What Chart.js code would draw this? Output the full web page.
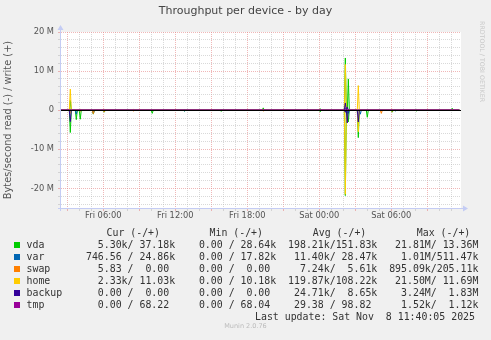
<!DOCTYPE html>
<html>
<head>
<meta charset="utf-8">
<script src="https://cdn.jsdelivr.net/npm/chart.js@4.4.1/dist/chart.umd.min.js"></script>
<style>
  body { margin: 0; background: #f0f0f0; }
  #wrap { position: relative; width: 491px; height: 340px; overflow: hidden; font-family: "DejaVu Sans", sans-serif; }
  #myChart { position: absolute; left: 0; top: 0; }
  .titulo { position: absolute; left: 0; top: 4px; width: 491px; text-align: center; font-size: 11px; color: #444; }
  .rrd { position: absolute; left: 479px; top: 21px; writing-mode: vertical-rl; font-size: 6.3px; color: #c8c8c8; }
  .mono { position: absolute; font-family: "DejaVu Sans Mono", monospace; font-size: 9.9px; line-height: 12px; color: #333; white-space: pre; }
  .cuadro { position: absolute; left: 14px; width: 6px; height: 6px; }
  .munin { position: absolute; left: 0; top: 322px; width: 491px; text-align: center; font-size: 6.5px; color: #bbb; }
</style>
</head>
<body>
<div id="wrap">
  <canvas id="myChart" width="491" height="340"></canvas>
  <div class="titulo">Throughput per device - by day</div>
  <div class="rrd">RRDTOOL / TOBI OETIKER</div>
  <div id="leyenda"></div>
  <div class="munin">Munin 2.0.76</div>
</div>
<script>
// dispositivos y colores (orden de munin)
const dispositivos = ['vda', 'var', 'swap', 'home', 'backup', 'tmp'];
const colores = ['#00cc00', '#0066b3', '#ff8000', '#ffcc00', '#330099', '#990099'];

// picos: hora de la muestra (horas desde vie 00:00) y valor en M bytes/s
const vdaHoras      = [3.25, 3.75, 4.08, 5.17, 6.08, 8.08, 10.08, 12.75, 15.83, 19.33, 24.08, 26.17, 26.42, 27.25, 28.0, 30.08, 30.33, 32.08, 35.08];
const vdaLectura    = [-5.7, -2.4, -2.3, -1.0, -0.5, 0, -0.8, -0.2, -0.3, 0, -0.4, -21.81, -3.0, -7.0, -1.8, -0.5, 0, -0.2, 0];
const vdaEscritura  = [2.5, 0, 0.3, 0, 0, 0.3, 0, 0, 0.3, 0.6, 0.4, 13.36, 8.0, 0, 0, 0, 0.3, 0.2, 0.5];

const varHoras      = [3.25, 3.75, 5.17, 12.75, 24.08, 26.17, 26.42, 27.42, 30.33];
const varLectura    = [-0.6, -1.0, -0.8, -0.2, 0, -0.5, -0.8, -1.01, -0.2];
const varEscritura  = [0.2, 0, 0, 0.3, 0.3, 0.51, 0.3, 0, 0.3];

const swapHoras     = [4.08, 5.17, 6.08, 8.5, 19.33, 29.17, 30.08];
const swapLectura   = [-0.3, -0.9, -0.4, -0.2, -0.2, -0.8, -0.3];
const swapEscritura = [0.2, 0, 0.2, 0.2, 0.2, 0, 0.2];

const homeHoras     = [3.25, 26.17, 27.25];
const homeLectura   = [-0.8, -21.5, -5.5];
const homeEscritura = [5.4, 11.69, 6.3];

const backupHoras     = [3.25, 26.17, 26.33, 27.25];
const backupLectura   = [-2.9, -0.5, -3.24, -3.0];
const backupEscritura = [0, 1.83, 0.8, 0];

const tmpHoras      = [26.17];
const tmpLectura    = [-0.0015];
const tmpEscritura  = [0.0011];

// ejes
const horaInicio = 2.475;
const horaFin = 35.808;
const xTickHoras  = [6, 12, 18, 24, 30];
const xTickTextos = ['Fri 06:00', 'Fri 12:00', 'Fri 18:00', 'Sat 00:00', 'Sat 06:00'];
const yTickValores = [20, 10, 0, -10, -20];
const yTickTextos  = ['20 M', '10 M', '0', '-10 M', '-20 M'];

// tabla de leyenda
const legCur = ['  5.30k/ 37.18k', '746.56 / 24.86k', '  5.83 /  0.00 ', '  2.33k/ 11.03k', '  0.00 /  0.00 ', '  0.00 / 68.22 '];
const legMin = ['  0.00 / 28.64k', '  0.00 / 17.82k', '  0.00 /  0.00 ', '  0.00 / 10.18k', '  0.00 /  0.00 ', '  0.00 / 68.04 '];
const legAvg = ['198.21k/151.83k', ' 11.40k/ 28.47k', '  7.24k/  5.61k', '119.87k/108.22k', ' 24.71k/  8.65k', ' 29.38 / 98.82 '];
const legMax = [' 21.81M/ 13.36M', '  1.01M/511.47k', '895.09k/205.11k', ' 21.50M/ 11.69M', '  3.24M/  1.83M', '  1.52k/  1.12k'];
const ultimaActualizacion = 'Last update: Sat Nov  8 11:40:05 2025';

const paso = 1 / 12; // 5 minutos

function serie(horas, valores) {
    const puntos = [{ x: horaInicio, y: 0 }];
    for (let i = 0; i < horas.length; i++) {
        puntos.push({ x: horas[i] - paso, y: 0 });
        puntos.push({ x: horas[i], y: valores[i] });
        puntos.push({ x: horas[i] + paso, y: 0 });
    }
    puntos.push({ x: 35.67, y: 0 });
    return puntos;
}

const lecturas = [
    [vdaHoras, vdaLectura, vdaEscritura],
    [varHoras, varLectura, varEscritura],
    [swapHoras, swapLectura, swapEscritura],
    [homeHoras, homeLectura, homeEscritura],
    [backupHoras, backupLectura, backupEscritura],
    [tmpHoras, tmpLectura, tmpEscritura]
];

const datasets = [];
lecturas.forEach((d, i) => {
    [d[1], d[2]].forEach((valores) => {
        datasets.push({
            label: dispositivos[i],
            data: serie(d[0], valores),
            borderColor: colores[i],
            borderWidth: 1,
            pointRadius: 0,
            tension: 0,
            fill: false,
            order: 10 - i
        });
    });
});

const rojo = 'rgba(230,135,135,0.6)';
const gris = 'rgba(185,185,185,0.55)';
const ejeColor = '#c4ccf4';

const fondo = {
    id: 'fondo',
    beforeDraw(chart) {
        const a = chart.chartArea;
        const c = chart.ctx;
        c.save();
        c.fillStyle = '#ffffff';
        c.fillRect(a.left, a.top, a.right - a.left, a.bottom - a.top);
        c.restore();
    }
};

const ejes = {
    id: 'ejes',
    afterDatasetsDraw(chart) {
        const a = chart.chartArea;
        const c = chart.ctx;
        const y0 = Math.round(chart.scales.y.getPixelForValue(0)) + 0.5;
        c.save();
        c.strokeStyle = '#000';
        c.lineWidth = 1;
        c.beginPath();
        c.moveTo(a.left, y0);
        c.lineTo(a.right, y0);
        c.stroke();

        const xl = Math.round(a.left) - 0.5;
        const yb = Math.round(a.bottom) + 0.5;
        c.strokeStyle = ejeColor;
        c.fillStyle = ejeColor;
        c.beginPath();
        c.moveTo(xl, a.bottom + 3);
        c.lineTo(xl, a.top - 3);
        c.moveTo(a.left - 3, yb);
        c.lineTo(a.right + 3, yb);
        c.stroke();
        c.beginPath();
        c.moveTo(xl - 3, a.top - 2);
        c.lineTo(xl + 3, a.top - 2);
        c.lineTo(xl, a.top - 7);
        c.closePath();
        c.fill();
        c.beginPath();
        c.moveTo(a.right + 2, yb - 3);
        c.lineTo(a.right + 2, yb + 3);
        c.lineTo(a.right + 7, yb);
        c.closePath();
        c.fill();
        c.restore();
    }
};

const config = {
    type: 'line',
    data: { datasets: datasets },
    options: {
        responsive: false,
        animation: false,
        devicePixelRatio: 1,
        layout: { padding: { top: 32, right: 30, bottom: 118, left: 0 } },
        plugins: { legend: { display: false }, tooltip: { enabled: false } },
        scales: {
            x: {
                type: 'linear',
                min: horaInicio,
                max: horaFin,
                afterFit: (s) => { s.height = 14; },
                ticks: {
                    stepSize: 1,
                    includeBounds: false,
                    autoSkip: false,
                    maxRotation: 0,
                    padding: 0,
                    color: '#555',
                    font: { family: 'DejaVu Sans', size: 8.3 },
                    callback: (v) => {
                        const i = xTickHoras.indexOf(Math.round(v));
                        return i >= 0 && Math.abs(v - Math.round(v)) < 1e-6 ? xTickTextos[i] : '';
                    }
                },
                grid: {
                    color: (c) => (c.tick && Math.round(c.tick.value) % 3 === 0 ? rojo : gris),
                    tickColor: (c) => (c.tick && Math.round(c.tick.value) % 3 === 0 ? rojo : gris),
                    tickLength: 3,
                    lineWidth: 1
                },
                border: { display: false, dash: [1, 1] }
            },
            y: {
                type: 'linear',
                min: -25,
                max: 20,
                afterFit: (s) => { s.width = 61; },
                title: {
                    display: true,
                    text: 'Bytes/second read (-) / write (+)',
                    color: '#555',
                    font: { family: 'DejaVu Sans', size: 9.8 },
                    padding: { top: 3, bottom: 0 }
                },
                ticks: {
                    stepSize: 2,
                    includeBounds: false,
                    autoSkip: false,
                    padding: 4,
                    color: '#555',
                    font: { family: 'DejaVu Sans', size: 8.3 },
                    callback: (v) => {
                        const i = yTickValores.indexOf(Math.round(v));
                        return i >= 0 ? yTickTextos[i] : '';
                    }
                },
                grid: {
                    color: (c) => (c.tick && Math.round(c.tick.value) % 10 === 0 ? rojo : gris),
                    tickColor: (c) => (c.tick && Math.round(c.tick.value) % 10 === 0 ? rojo : gris),
                    tickLength: 3,
                    lineWidth: 1
                },
                border: { display: false, dash: [1, 1] }
            }
        }
    },
    plugins: [fondo, ejes]
};

const chart = new Chart(document.getElementById('myChart'), config);

// leyenda en texto
const leyenda = document.getElementById('leyenda');
let html = '';
const cabeceras = [['Cur (-/+)', 106.5], ['Min (-/+)', 209.5], ['Avg (-/+)', 312.8], ['Max (-/+)', 416.8]];
cabeceras.forEach((c) => {
    html += `<div class="mono" style="left:${c[1]}px;top:227px">${c[0]}</div>`;
});
dispositivos.forEach((d, i) => {
    const top = 238.7 + i * 12;
    const linea = d.padEnd(10, ' ') + legCur[i] + '  ' + legMin[i] + '  ' + legAvg[i] + '  ' + legMax[i];
    html += `<div class="cuadro" style="top:${top + 3.3}px;background:${colores[i]}"></div>`;
    html += `<div class="mono" style="left:26.5px;top:${top}px">${linea}</div>`;
});
html += `<div class="mono" style="left:255px;top:${238.7 + 72}px">${ultimaActualizacion}</div>`;
leyenda.innerHTML = html;
</script>
</body>
</html>
